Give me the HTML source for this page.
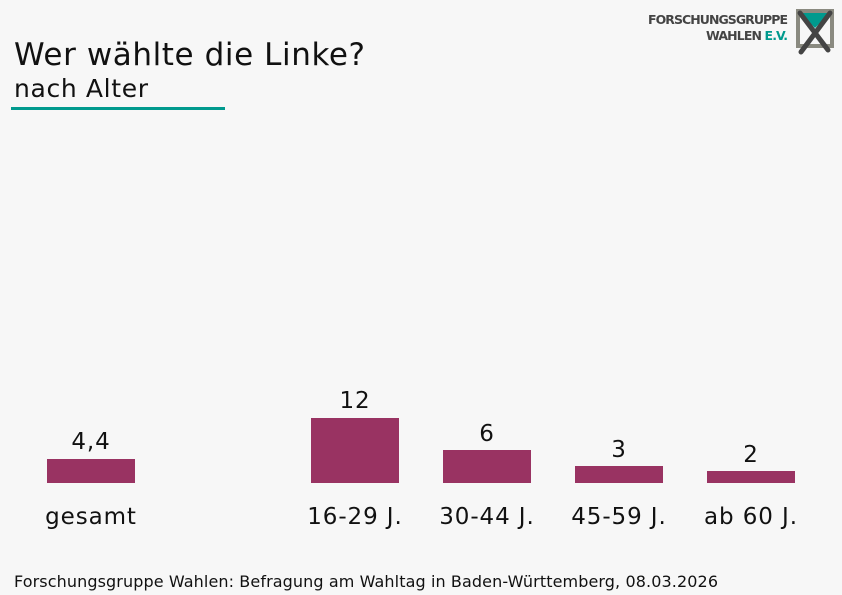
<!DOCTYPE html>
<html><head><meta charset="utf-8"><style>
body{margin:0;background:#f7f7f7;}
svg{display:block;font-family:"DejaVu Sans","Liberation Sans",sans-serif;}
</style></head><body>
<svg width="842" height="595" viewBox="0 0 842 595">
<rect width="842" height="595" fill="#f7f7f7"/>
<text x="14" y="65" font-size="31" fill="#111" textLength="351">Wer wählte die Linke?</text>
<text x="14" y="97" font-size="25" fill="#111" textLength="134">nach Alter</text>
<rect x="11" y="107" width="214" height="3" fill="#009a8e"/>
<text x="788" y="24" font-size="12.5" font-weight="bold" fill="#444" text-anchor="end" textLength="140">FORSCHUNGSGRUPPE</text>
<text x="788" y="40" font-size="12.5" font-weight="bold" fill="#444" text-anchor="end" textLength="82">WAHLEN <tspan fill="#009a8e">E.V.</tspan></text>
<rect x="798" y="11" width="34" height="35" fill="none" stroke="#8a8a80" stroke-width="4"/>
<polygon points="800,13 830,13 815,28" fill="#009a8e"/>
<line x1="800" y1="13" x2="828" y2="50" stroke="#444" stroke-width="5" stroke-linecap="round"/>
<line x1="830" y1="13" x2="801" y2="52" stroke="#444" stroke-width="5" stroke-linecap="round"/>
<g fill="#993362">
<rect x="47" y="459" width="88" height="24"/>
<rect x="311" y="418" width="88" height="65"/>
<rect x="443" y="450" width="88" height="33"/>
<rect x="575" y="466" width="88" height="17"/>
<rect x="707" y="471" width="88" height="12"/>
</g>
<g font-size="23" fill="#111" text-anchor="middle" letter-spacing="0.9">
<text x="91" y="449">4,4</text>
<text x="355" y="408">12</text>
<text x="487" y="441">6</text>
<text x="619" y="457">3</text>
<text x="751" y="462">2</text>
<text x="91" y="524">gesamt</text>
<text x="355" y="524">16-29 J.</text>
<text x="487" y="524">30-44 J.</text>
<text x="619" y="524">45-59 J.</text>
<text x="751" y="524">ab 60 J.</text>
</g>
<text x="14" y="587" font-size="16" fill="#111" textLength="704">Forschungsgruppe Wahlen: Befragung am Wahltag in Baden-Württemberg, 08.03.2026</text>
</svg>
</body></html>
